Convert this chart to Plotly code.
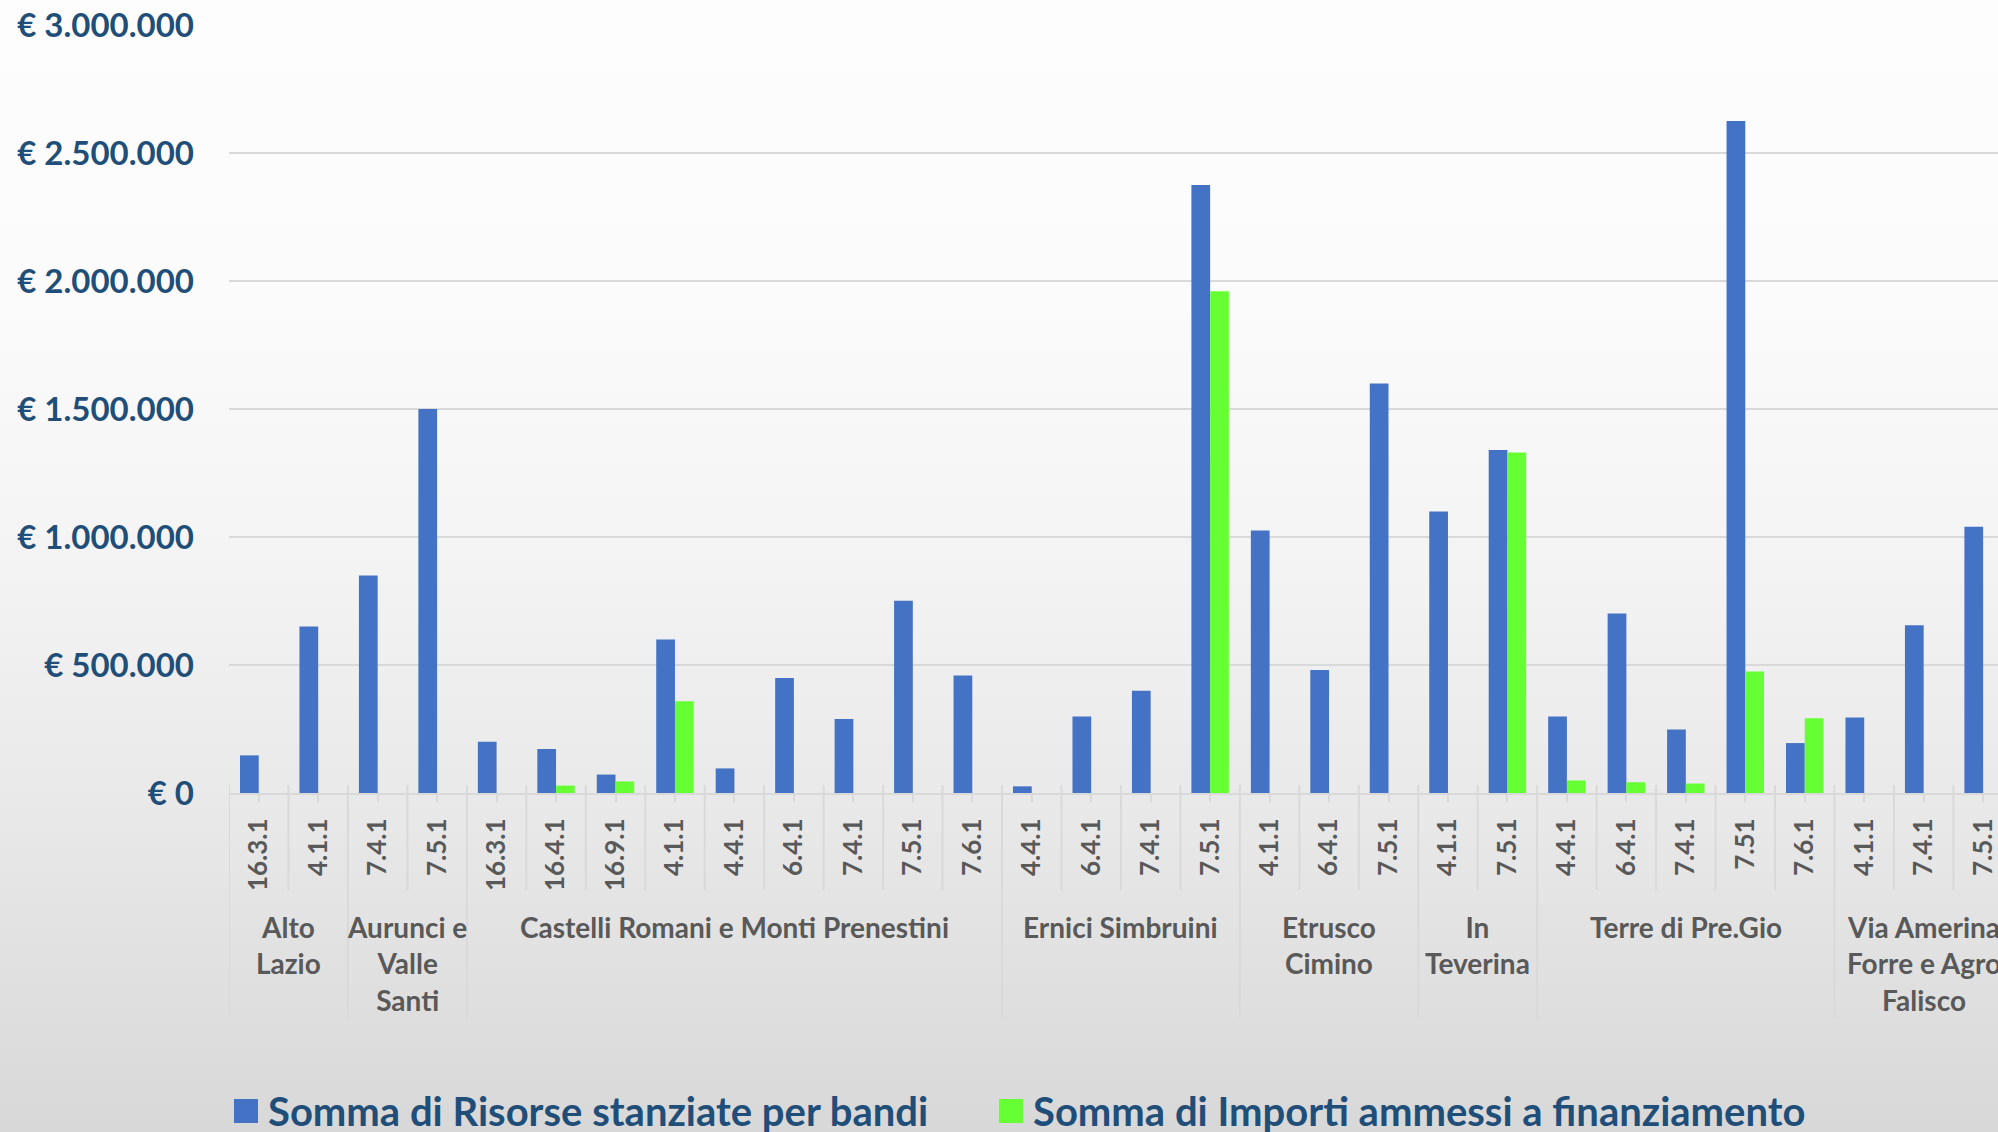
import plotly.graph_objects as go

# --- data -------------------------------------------------------------
codes = ["16.3.1", "4.1.1",
         "7.4.1", "7.5.1",
         "16.3.1", "16.4.1", "16.9.1", "4.1.1", "4.4.1", "6.4.1", "7.4.1", "7.5.1", "7.6.1",
         "4.4.1", "6.4.1", "7.4.1", "7.5.1",
         "4.1.1", "6.4.1", "7.5.1",
         "4.1.1", "7.5.1",
         "4.4.1", "6.4.1", "7.4.1", "7.51", "7.6.1",
         "4.1.1", "7.4.1", "7.5.1"]

group_names = ["Alto<br>Lazio", "Aurunci e<br>Valle<br>Santi",
               "Castelli Romani e Monti Prenestini", "Ernici Simbruini",
               "Etrusco<br>Cimino", "In<br>Teverina", "Terre di Pre.Gio",
               "Via Amerina<br>Forre e Agro<br>Falisco"]
group_sizes = [2, 2, 9, 4, 3, 2, 5, 3]

risorse = [147000, 650000,
           850000, 1500000,
           200000, 172000, 72000, 600000, 96000, 449000, 289000, 751000, 459000,
           26000, 299000, 399000, 2375000,
           1025000, 480000, 1600000,
           1100000, 1340000,
           299000, 701000, 248000, 2625000, 195000,
           295000, 655000, 1040000]

importi = [None, None,
           None, None,
           None, 29000, 45000, 358000, None, None, None, None, None,
           None, None, None, 1960000,
           None, None, None,
           None, 1330000,
           49000, 42000, 37000, 475000, 292000,
           None, None, None]

y_tickvals = [0, 500000, 1000000, 1500000, 2000000, 2500000, 3000000]
y_ticktext = ["€ 0", "€ 500.000", "€ 1.000.000", "€ 1.500.000",
              "€ 2.000.000", "€ 2.500.000", "€ 3.000.000"]

series_names = ["Somma di Risorse stanziate per bandi",
                "Somma di Importi ammessi a finanziamento"]

# --- styling ----------------------------------------------------------
W, H = 1998, 1132
ML, MR, MT, MB = 229, 0, 25, 339
PW, PH = W - ML - MR, H - MT - MB
BLUE, GREEN = "#4472C4", "#66FF33"
TITLE_BLUE, GREY_TXT, GRID = "#1F4E79", "#595959", "#D9D9D9"
FONT = "Lato"


def px_x(px):
    return (px - ML) / PW


def px_y(py):
    return (H - MB - py) / PH


x = list(range(len(codes)))

fig = go.Figure()
fig.add_trace(go.Bar(x=x, y=risorse, name=series_names[0],
                     marker=dict(color=BLUE, line=dict(width=0))))
fig.add_trace(go.Bar(x=x, y=importi, name=series_names[1],
                     marker=dict(color=GREEN, line=dict(width=0))))

shapes = []

# background gradient (white at top, light grey at bottom)
stops = [(0, 253), (300, 251), (550, 244), (800, 233), (1132, 216)]


def grey_at(py):
    for (y0, c0), (y1, c1) in zip(stops[:-1], stops[1:]):
        if y0 <= py <= y1:
            return c0 + (c1 - c0) * (py - y0) / (y1 - y0)
    return stops[-1][1]


step = 8
for top in range(0, H, step):
    g = int(round(grey_at(top + step / 2)))
    shapes.append(dict(type="rect", xref="paper", yref="paper", layer="below",
                       x0=px_x(-5), x1=px_x(W + 5),
                       y0=px_y(top + step + 0.5), y1=px_y(top - 0.5),
                       fillcolor=f"rgb({g},{g},{g})", line=dict(width=0)))

# category separators under the axis
group_edges = set()
pos = -0.5
group_edges.add(pos)
for s in group_sizes:
    pos += s
    group_edges.add(pos)

for k in range(len(codes) + 1):
    xe = k - 0.5
    bottom = px_y(1018) if xe in group_edges else px_y(890)
    shapes.append(dict(type="line", xref="x", yref="paper", layer="above",
                       x0=xe, x1=xe, y0=px_y(785), y1=bottom,
                       line=dict(color=GRID, width=2)))

# legend swatches
shapes.append(dict(type="rect", xref="paper", yref="paper",
                   x0=px_x(234), x1=px_x(258), y0=px_y(1123), y1=px_y(1099),
                   fillcolor=BLUE, line=dict(width=0)))
shapes.append(dict(type="rect", xref="paper", yref="paper",
                   x0=px_x(999), x1=px_x(1023), y0=px_y(1123), y1=px_y(1099),
                   fillcolor=GREEN, line=dict(width=0)))

annotations = []
# group labels centred under their categories
start = 0
for name, s in zip(group_names, group_sizes):
    centre = start + (s - 1) / 2
    annotations.append(dict(x=centre, y=px_y(908), xref="x", yref="paper",
                            text=name, showarrow=False, xanchor="center",
                            yanchor="top", align="center",
                            font=dict(family=FONT, size=28, color=GREY_TXT,
                                      weight="bold")))
    start += s

# legend texts
annotations.append(dict(x=px_x(266), y=px_y(1111), xref="paper", yref="paper",
                        text=series_names[0], showarrow=False, xanchor="left",
                        yanchor="middle",
                        font=dict(family=FONT, size=40, color=TITLE_BLUE,
                                  weight="bold")))
annotations.append(dict(x=px_x(1031), y=px_y(1111), xref="paper", yref="paper",
                        text=series_names[1], showarrow=False, xanchor="left",
                        yanchor="middle",
                        font=dict(family=FONT, size=40, color=TITLE_BLUE,
                                  weight="bold")))

fig.update_layout(
    width=W, height=H,
    margin=dict(l=ML, r=MR, t=MT, b=MB, pad=0),
    paper_bgcolor="#D8D8D8",
    plot_bgcolor="rgba(0,0,0,0)",
    barmode="group", bargap=0.37, bargroupgap=0,
    showlegend=False,
    shapes=shapes,
    annotations=annotations,
    xaxis=dict(range=[-0.5, 29.25], tickmode="array", tickvals=x,
               ticktext=codes, tickangle=-90, ticks="outside", ticklen=7,
               tickwidth=2, tickcolor=GRID, showgrid=False, zeroline=False,
               showline=True, linecolor=GRID, linewidth=2,
               ticklabelstandoff=6,
               tickfont=dict(family=FONT, size=26, color=GREY_TXT,
                             weight="bold")),
    yaxis=dict(range=[0, 3000000], tickmode="array", tickvals=y_tickvals,
               ticktext=y_ticktext, showgrid=True, gridcolor=GRID,
               gridwidth=2, zeroline=False, showline=False,
               ticklabelstandoff=34,
               tickfont=dict(family=FONT, size=33, color=TITLE_BLUE,
                             weight="bold")),
)

fig.write_html("out.html")
